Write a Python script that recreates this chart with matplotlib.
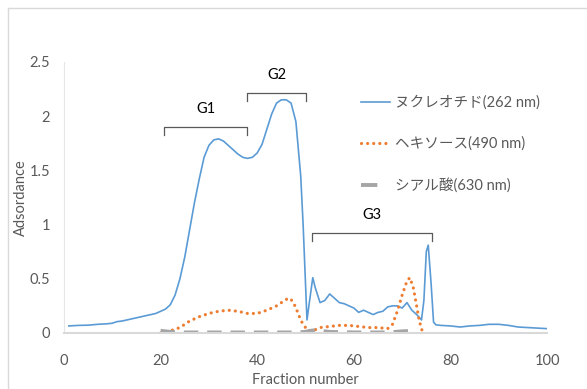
import matplotlib
matplotlib.use('Agg')
import matplotlib.pyplot as plt
from matplotlib.lines import Line2D

plt.rcParams['font.family'] = ['Lato', 'Noto Sans CJK JP', 'DejaVu Sans']

# nucleotide (262 nm)
nuc_x = [1, 3, 5, 7, 9, 10, 11, 12, 14, 16, 18, 19, 20, 21, 22, 23, 24, 25, 26, 27,
         28, 29, 30, 31, 32, 33, 34, 35, 36, 37, 38, 39, 40, 41, 42, 43, 44, 45, 46, 47,
         48, 49, 49.5, 50, 50.3, 51, 51.5, 52, 53, 54, 55, 56, 57, 58, 59, 60, 61, 62,
         63, 64, 65, 66, 67, 68, 69, 70, 71, 72, 73, 74, 74.5, 75, 75.4, 76, 76.5, 77,
         78, 80, 82, 84, 86, 88, 90, 92, 94, 96, 98, 100]
nuc_y = [0.065, 0.07, 0.072, 0.08, 0.085, 0.09, 0.105, 0.11, 0.13, 0.15, 0.17, 0.18,
         0.20, 0.22, 0.26, 0.35, 0.50, 0.70, 0.95, 1.20, 1.42, 1.62, 1.73, 1.78, 1.79,
         1.77, 1.73, 1.69, 1.65, 1.62, 1.61, 1.62, 1.66, 1.74, 1.88, 2.02, 2.12, 2.15,
         2.15, 2.12, 1.95, 1.45, 1.00, 0.45, 0.12, 0.35, 0.51, 0.42, 0.28, 0.30, 0.36,
         0.32, 0.28, 0.27, 0.25, 0.23, 0.19, 0.21, 0.19, 0.17, 0.19, 0.20, 0.24, 0.25,
         0.25, 0.23, 0.28, 0.21, 0.17, 0.12, 0.30, 0.75, 0.81, 0.45, 0.10, 0.075, 0.07,
         0.065, 0.055, 0.065, 0.07, 0.08, 0.08, 0.07, 0.055, 0.05, 0.045, 0.04]

# hexose (490 nm)
hex_x = [20, 21, 22, 23, 24, 25, 26, 27, 28, 30, 32, 34, 36, 38, 40, 42, 44, 45, 46,
         46.8, 47.5, 48.2, 49, 49.5, 50.5, 52, 53, 55, 57, 59, 61, 63, 65, 67, 68, 69,
         70, 71, 71.6, 72.3, 73, 73.5, 74, 74.3]
hex_y = [0.0, 0.005, 0.02, 0.035, 0.05, 0.08, 0.11, 0.13, 0.15, 0.18, 0.20, 0.21, 0.20,
         0.18, 0.18, 0.21, 0.25, 0.28, 0.31, 0.32, 0.28, 0.21, 0.12, 0.08, 0.02, 0.03,
         0.05, 0.06, 0.07, 0.07, 0.06, 0.05, 0.05, 0.04, 0.08, 0.20, 0.35, 0.48, 0.51,
         0.42, 0.25, 0.12, 0.04, 0.0]

# sialic acid (630 nm)
sia_x = [20, 21, 22, 24, 30, 40, 48, 50, 51, 52, 53, 55, 60, 67, 70, 72, 73]
sia_y = [0.02, 0.015, 0.01, 0.005, 0.005, 0.005, 0.005, 0.01, 0.02, 0.025, 0.02, 0.01,
         0.005, 0.005, 0.015, 0.02, 0.02]

labels = ['ヌクレオチド(262 nm)', 'ヘキソース(490 nm)', 'シアル酸(630 nm)']
groups = ['G1', 'G2', 'G3']
group_start = [20.7, 37.9, 51.3]
group_end = [37.9, 50.1, 76.2]
group_level = [1.90, 2.21, 0.92]

text_color = '#595959'

fig = plt.figure(figsize=(5.87, 3.89), dpi=100)
ax = fig.add_axes([0.109, 0.144, 0.823, 0.697])

ax.plot(nuc_x, nuc_y, color='#5b9bd5', lw=1.2, label=labels[0])
ax.plot(hex_x, hex_y, color='#ed7d31', lw=2.3, linestyle=(0, (0.01, 1.9)),
        dash_capstyle='round', label=labels[1])
ax.plot(sia_x, sia_y, color='#a5a5a5', lw=2.8, linestyle=(0, (3.7, 2.3)),
        label=labels[2])

# group brackets
for name, x0, x1, yl in zip(groups, group_start, group_end, group_level):
    ax.plot([x0, x0, x1, x1], [yl - 0.07, yl, yl, yl - 0.07], color=text_color, lw=0.9)
    ax.text((x0 + x1) / 2, yl + 0.1, name, ha='center', va='bottom', fontsize=10.5,
            color='black')

ax.set_xlim(0, 100)
ax.set_ylim(0, 2.5)
ax.set_xticks([0, 20, 40, 60, 80, 100])
ax.set_yticks([0, 0.5, 1, 1.5, 2, 2.5])
ax.set_yticklabels(['0', '0.5', '1', '1.5', '2', '2.5'])
ax.tick_params(length=0, labelsize=10.5, labelcolor=text_color)
ax.tick_params(axis='x', pad=15)
ax.tick_params(axis='y', pad=10)

for s in ['top', 'right']:
    ax.spines[s].set_visible(False)
ax.spines['left'].set_color('#e6e6e6')
ax.spines['left'].set_linewidth(0.8)
ax.spines['bottom'].set_color('#d9d9d9')
ax.spines['bottom'].set_linewidth(1.5)

ax.set_xlabel('Fraction number', fontsize=10.5, color=text_color, labelpad=4)
ax.set_ylabel('Adsordance', fontsize=10.5, color=text_color, labelpad=1)

leg = ax.legend(loc='upper left', bbox_to_anchor=(0.615, 0.877), frameon=False,
                fontsize=10.5, labelspacing=1.85, handlelength=2.0, handletextpad=0.35,
                borderpad=0, borderaxespad=0)
for t in leg.get_texts():
    t.set_color(text_color)
# the gray legend key shows one dash only
leg.legend_handles[2].set_linestyle((0, (4.2, 10)))

# chart area border (only left and top visible)
fig.add_artist(Line2D([0.0136, 0.0136], [0, 0.979], color='#d9d9d9', lw=1.0))
fig.add_artist(Line2D([0.0136, 1.0], [0.979, 0.979], color='#d9d9d9', lw=1.0))

fig.savefig('out.png', dpi=100)
